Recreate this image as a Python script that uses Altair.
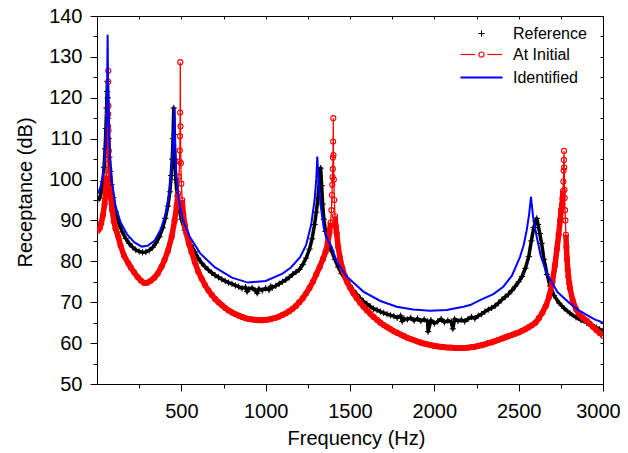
import altair as alt
import pandas as pd

# ---------------- data ----------------
ref_freq = [5, 15, 25, 35, 42, 48, 53, 57, 60, 62, 64, 66, 69, 73, 78, 85, 95, 110, 130, 150,
            170, 190, 210, 230, 250, 270, 290, 310, 330, 350, 370, 390, 405, 420, 432, 440, 446, 451, 455, 458,
            462, 467, 475, 485, 500, 520, 540, 560, 580, 600, 620, 640, 660, 680, 700, 720, 740, 760, 780, 800,
            820, 840, 860, 880, 890, 900, 920, 940, 950, 960, 980, 1000, 1020, 1030, 1040, 1060, 1080, 1100, 1120, 1140,
            1160, 1180, 1200, 1220, 1240, 1260, 1275, 1290, 1300, 1310, 1318, 1326, 1332, 1338, 1345, 1355, 1370, 1391, 1410, 1430,
            1450, 1480, 1500, 1520, 1540, 1560, 1580, 1600, 1620, 1640, 1660, 1680, 1700, 1720, 1740, 1760, 1780, 1800, 1810, 1820,
            1840, 1860, 1880, 1900, 1920, 1940, 1960, 1963, 1980, 2000, 2020, 2040, 2060, 2080, 2100, 2110, 2120, 2140, 2160, 2180,
            2200, 2220, 2240, 2260, 2280, 2300, 2320, 2340, 2360, 2380, 2400, 2420, 2440, 2460, 2480, 2500, 2520, 2540, 2560, 2575,
            2590, 2600, 2607, 2615, 2625, 2636, 2650, 2668, 2686, 2710, 2740, 2770, 2804, 2840, 2870, 2903, 2930, 2960, 2980, 3000]
ref_db = [95.0, 95.4, 96.8, 99.5, 103.0, 107.5, 112.5, 117.5, 121.5, 124.0, 120.0, 115.0, 110.0, 105.5, 102.0, 98.8, 95.6, 92.2, 89.2, 87.2,
          85.6, 84.4, 83.5, 82.8, 82.4, 82.2, 82.3, 82.7, 83.4, 84.5, 86.0, 88.2, 90.5, 93.5, 97.0, 101.0, 105.0, 110.0, 117.5, 111.0,
          105.0, 100.0, 96.0, 93.0, 90.3, 87.6, 85.5, 83.8, 82.3, 80.8, 79.6, 78.7, 77.9, 77.2, 76.6, 76.1, 75.6, 75.2, 74.8, 74.5,
          74.1, 73.8, 73.4, 73.7, 72.6, 73.2, 73.5, 72.8, 72.2, 73.3, 72.9, 73.4, 73.0, 73.9, 73.6, 74.0, 74.5, 75.0, 75.5, 76.1,
          76.8, 77.4, 78.0, 79.2, 80.8, 83.0, 85.5, 89.0, 92.0, 95.5, 99.5, 102.8, 98.5, 94.0, 90.3, 87.3, 84.5, 82.5, 80.5, 78.6,
          77.0, 75.2, 74.1, 72.9, 71.9, 71.0, 70.2, 69.6, 69.0, 68.4, 68.1, 67.7, 67.4, 67.1, 66.8, 66.6, 66.2, 66.7, 65.3, 66.0,
          65.8, 66.2, 65.5, 66.0, 65.4, 65.8, 65.3, 62.8, 65.6, 64.8, 65.3, 65.9, 65.1, 65.5, 65.2, 63.5, 65.9, 65.4, 65.7, 65.3,
          65.9, 66.4, 66.0, 66.7, 67.1, 67.7, 68.2, 68.6, 69.1, 69.8, 70.6, 71.3, 72.0, 72.9, 73.9, 75.0, 76.3, 78.3, 81.2, 85.0,
          88.3, 89.8, 90.5, 89.0, 86.8, 84.4, 80.5, 76.8, 74.0, 71.6, 69.8, 68.5, 67.3, 66.3, 65.6, 65.0, 64.4, 63.8, 63.4, 63.0]

init_freq = [5, 15, 25, 35, 45, 52, 57, 61, 64, 65.5, 66.2, 66.6, 67, 67.5, 68.5, 70, 73, 77, 82, 90,
             100, 110, 126, 140, 160, 186, 200, 220, 240, 260, 280, 300, 320, 340, 360, 383, 400, 420, 443, 460,
             472, 480, 486, 489, 491, 492, 493, 494, 495, 497, 500, 505, 512, 520, 530, 545, 560, 580, 600, 620,
             640, 660, 680, 700, 720, 740, 760, 780, 800, 820, 840, 860, 880, 900, 920, 940, 960, 980, 1000, 1020,
             1040, 1060, 1080, 1100, 1120, 1140, 1160, 1180, 1200, 1220, 1240, 1260, 1280, 1300, 1320, 1340, 1355, 1368, 1378, 1385,
             1390, 1393, 1395, 1396.5, 1398, 1399, 1400, 1401, 1402, 1404, 1407, 1411, 1416, 1421, 1430, 1440, 1455, 1470, 1485, 1500,
             1520, 1540, 1560, 1580, 1600, 1620, 1640, 1660, 1680, 1700, 1720, 1740, 1760, 1780, 1800, 1820, 1840, 1860, 1880, 1900,
             1920, 1940, 1960, 1980, 2000, 2020, 2040, 2060, 2080, 2100, 2120, 2140, 2160, 2180, 2200, 2220, 2240, 2260, 2280, 2300,
             2320, 2340, 2360, 2380, 2400, 2420, 2440, 2460, 2480, 2500, 2520, 2540, 2560, 2580, 2600, 2620, 2640, 2660, 2680, 2700,
             2715, 2727, 2737, 2746, 2752, 2757, 2760, 2763, 2765, 2766.5, 2768, 2769, 2770, 2772, 2773, 2775, 2777, 2780, 2783, 2787,
             2791, 2795, 2800, 2804, 2820, 2840, 2860, 2880, 2903, 2920, 2940, 2960, 2980, 3000]
init_db = [87.5, 88.0, 89.3, 91.3, 94.0, 97.5, 101.0, 105.0, 110.0, 113.0, 116.0, 123.9, 126.6, 118.0, 112.0, 107.0, 102.5, 98.5, 95.5, 92.5,
           89.8, 88.0, 86.0, 83.8, 81.4, 79.5, 78.5, 77.3, 76.2, 75.3, 74.7, 74.8, 75.3, 76.0, 77.0, 78.7, 80.3, 82.5, 86.0, 90.0,
           93.4, 96.6, 100.7, 104.4, 107.1, 110.6, 116.4, 128.7, 113.0, 104.0, 99.0, 95.0, 91.5, 89.0, 86.8, 84.3, 82.3, 79.8, 77.5, 75.8,
           74.2, 72.9, 71.8, 70.8, 70.0, 69.3, 68.6, 68.0, 67.5, 67.1, 66.7, 66.4, 66.1, 65.9, 65.8, 65.7, 65.6, 65.6, 65.7, 65.8,
           66.0, 66.2, 66.5, 66.9, 67.3, 67.8, 68.4, 69.1, 70.0, 71.0, 72.2, 73.5, 75.0, 76.8, 78.6, 80.6, 82.3, 84.5, 87.0, 89.5,
           92.5, 96.2, 98.7, 100.6, 102.6, 105.4, 109.3, 115.0, 106.0, 100.0, 95.0, 91.0, 88.5, 86.9, 83.5, 81.0, 78.3, 76.3, 74.8, 73.6,
           72.2, 71.0, 69.9, 68.9, 68.0, 67.2, 66.4, 65.7, 65.0, 64.4, 63.9, 63.4, 62.9, 62.5, 62.1, 61.7, 61.3, 61.0, 60.7, 60.4,
           60.1, 59.9, 59.7, 59.5, 59.3, 59.2, 59.1, 59.0, 58.9, 58.9, 58.8, 58.8, 58.8, 58.8, 58.9, 59.0, 59.1, 59.3, 59.5, 59.7,
           60.0, 60.2, 60.5, 60.8, 61.1, 61.4, 61.7, 62.0, 62.3, 62.6, 63.0, 63.4, 63.9, 64.4, 65.0, 66.1, 67.4, 69.0, 71.3, 75.0,
           79.0, 83.0, 86.5, 90.0, 92.5, 93.8, 95.4, 97.2, 99.5, 102.2, 104.8, 107.0, 103.0, 97.5, 95.5, 92.5, 90.0, 86.5, 83.5, 80.5,
           78.0, 76.2, 74.6, 73.5, 70.5, 68.3, 67.0, 66.2, 65.5, 64.8, 64.0, 63.2, 62.5, 61.8]

ident_freq = [5, 20, 35, 45, 52, 57, 60, 63, 66, 70, 78, 90, 110, 140, 180, 220, 265, 300, 340, 380,
              410, 430, 445, 452, 458, 463, 470, 485, 510, 550, 611, 640, 700, 800, 895, 1000, 1100, 1150, 1204, 1240,
              1270, 1290, 1300, 1306, 1312, 1325, 1345, 1370, 1391, 1420, 1480, 1579, 1680, 1777, 1874, 1974, 2073, 2172, 2212, 2271,
              2350, 2409, 2460, 2508, 2530, 2548, 2562, 2573, 2585, 2607, 2630, 2666, 2730, 2804, 2850, 2903, 2950, 3000]
ident_db = [96.6, 98.0, 101.0, 105.0, 110.0, 116.0, 122.0, 135.4, 122.0, 113.0, 105.0, 99.0, 93.5, 89.5, 86.5, 84.7, 83.6, 83.8, 85.0, 88.0,
            92.0, 97.0, 104.0, 110.0, 117.7, 108.0, 101.0, 95.0, 90.0, 86.0, 82.0, 80.8, 78.5, 76.0, 74.8, 75.2, 77.0, 78.5, 81.0, 84.0,
            89.0, 95.0, 100.0, 105.6, 101.0, 94.0, 88.0, 85.0, 83.6, 80.0, 76.3, 72.6, 70.3, 68.9, 68.2, 67.9, 68.1, 68.9, 69.3, 70.5,
            72.0, 73.8, 76.5, 81.1, 84.0, 87.7, 91.5, 95.8, 91.0, 86.0, 81.5, 77.1, 72.5, 69.7, 68.2, 66.9, 65.8, 65.0]

legend_labels = ["Reference", "At Initial", "Identified"]
x_ticks = list(range(250, 3001, 250))
y_ticks = list(range(50, 141, 5))

# ---------------- chart ----------------
FONT = "Liberation Sans"
W, H = 506, 368
PLUS = "M-1,0H1M0,-1V1"
RED, BLUE = "#ff0000", "#0000ff"

ref_df = pd.DataFrame({"freq": ref_freq, "db": ref_db})
init_df = pd.DataFrame({"freq": init_freq, "db": init_db})
ident_df = pd.DataFrame({"freq": ident_freq, "db": ident_db})

xs = alt.Scale(domain=[0, 3000], nice=False, zero=False)
ys = alt.Scale(domain=[50, 140], nice=False, zero=False)

x_axis = alt.Axis(
    orient="bottom", values=x_ticks, format="d",
    labelExpr="datum.value % 500 === 0 ? datum.label : ''",
    tickSize={"condition": {"test": "datum.value % 500 === 0", "value": 7}, "value": 4},
    labelOffset={"condition": {"test": "datum.value === 3000", "value": -5}, "value": 0},
    tickColor="black", tickWidth=1, domain=False, grid=False,
    labelFont=FONT, labelFontSize=20, labelColor="black", labelPadding=10,
    labelFlush=False, labelOverlap=False,
    title="Frequency (Hz)", titleFont=FONT, titleFontSize=20, titleFontWeight="normal",
    titleColor="black", titleX=259, titleY=60, titleAlign="center", titleBaseline="alphabetic",
)
y_axis = alt.Axis(
    orient="left", values=y_ticks, format="d",
    labelExpr="datum.value % 10 === 0 ? datum.label : ''",
    tickSize={"condition": {"test": "datum.value % 10 === 0", "value": 7}, "value": 4},
    tickColor="black", tickWidth=1, domain=False, grid=False,
    labelFont=FONT, labelFontSize=20, labelColor="black", labelPadding=8,
    labelFlush=False, labelOverlap=False,
    title="Receptance (dB)", titleFont=FONT, titleFontSize=20, titleFontWeight="normal",
    titleColor="black", titleAngle=270, titleX=-66, titleY=176, titleAlign="center",
    titleBaseline="alphabetic",
)
x_axis_top = alt.Axis(orient="top", values=x_ticks, labels=False, tickSize=3, offset=-3,
                      tickColor="black", domain=False, grid=False, title=None)
y_axis_right = alt.Axis(orient="right", values=y_ticks, labels=False, tickSize=3, offset=-3,
                        tickColor="black", domain=False, grid=False, title=None)

# Reference: dense "+" markers forming a band
ref_band = alt.Chart(ref_df).mark_line(color="black", strokeWidth=3.5, strokeJoin="round", clip=True).encode(
    x=alt.X("freq:Q", scale=xs, axis=x_axis), y=alt.Y("db:Q", scale=ys, axis=y_axis))
ref_pts = alt.Chart(ref_df).mark_point(
    shape=PLUS, size=40, filled=False, color="black", strokeWidth=1, opacity=1, clip=True
).encode(x=alt.X("freq:Q", scale=xs, axis=None), y=alt.Y("db:Q", scale=ys, axis=None))

# At Initial: dense open circles on a line; they merge into a thick band
# except near the peak tips, where the circles stand apart
band_expr = ("(datum.prev == null || abs(datum.db - datum.prev) / (datum.freq - datum.pf) < 1.2) && "
             "(datum.nxt == null || abs(datum.nxt - datum.db) / (datum.nf - datum.freq) < 1.2) ? datum.db : null")
init_band = alt.Chart(init_df).transform_window(
    prev="lag(db)", nxt="lead(db)", pf="lag(freq)", nf="lead(freq)", sort=[alt.SortField("freq")]
).transform_calculate(band=band_expr).mark_line(
    color=RED, strokeWidth=5.5, strokeJoin="round", clip=True
).encode(x=alt.X("freq:Q", scale=xs, axis=x_axis_top), y=alt.Y("band:Q", scale=ys, axis=y_axis_right))
init_line = alt.Chart(init_df).mark_line(color=RED, strokeWidth=1.3, clip=True).encode(
    x=alt.X("freq:Q", scale=xs, axis=None), y=alt.Y("db:Q", scale=ys, axis=None))
init_pts = alt.Chart(init_df).mark_point(
    shape="circle", size=26, filled=False, color=RED, strokeWidth=1.1, opacity=1, clip=True
).encode(x=alt.X("freq:Q", scale=xs, axis=None), y=alt.Y("db:Q", scale=ys, axis=None))

ident_line = alt.Chart(ident_df).mark_line(color=BLUE, strokeWidth=2, clip=True).encode(
    x=alt.X("freq:Q", scale=xs, axis=None), y=alt.Y("db:Q", scale=ys, axis=None))

# ---------------- legend ----------------
def leg_text(label, ypix):
    return alt.Chart(pd.DataFrame({"label": [label]})).mark_text(
        align="left", baseline="middle", font=FONT, fontSize=16, color="black"
    ).encode(x=alt.value(416), y=alt.value(ypix), text="label:N")

one = pd.DataFrame({"k": [0]})
leg_ref_sym = alt.Chart(one).mark_point(shape=PLUS, size=40, filled=False, color="black",
                                        strokeWidth=1, opacity=1).encode(x=alt.value(384.5), y=alt.value(17.5))
leg_init_l1 = alt.Chart(one).mark_rule(color=RED, strokeWidth=1.2).encode(
    x=alt.value(363.5), x2=alt.value(378), y=alt.value(38.5))
leg_init_l2 = alt.Chart(one).mark_rule(color=RED, strokeWidth=1.2).encode(
    x=alt.value(390.5), x2=alt.value(405), y=alt.value(38.5))
leg_init_sym = alt.Chart(one).mark_point(shape="circle", size=26, filled=False, color=RED,
                                         strokeWidth=1.1, opacity=1).encode(x=alt.value(384.5), y=alt.value(38.5))
leg_ident = alt.Chart(one).mark_rule(color=BLUE, strokeWidth=2).encode(
    x=alt.value(363.5), x2=alt.value(405.5), y=alt.value(61.5))

chart = alt.layer(
    ref_band, ref_pts, init_band, init_line, init_pts, ident_line,
    leg_ref_sym, leg_text(legend_labels[0], 17.5),
    leg_init_l1, leg_init_l2, leg_init_sym, leg_text(legend_labels[1], 39),
    leg_ident, leg_text(legend_labels[2], 61.5),
).resolve_axis(x="independent", y="independent").properties(
    width=W, height=H,
    autosize=alt.AutoSizeParams(type="none"),
    padding={"left": 89, "top": 8, "right": 17, "bottom": 66},
    background="white",
).configure_view(stroke="black", strokeWidth=1)

chart.save("out.html", embed_options={"renderer": "svg", "actions": False})
